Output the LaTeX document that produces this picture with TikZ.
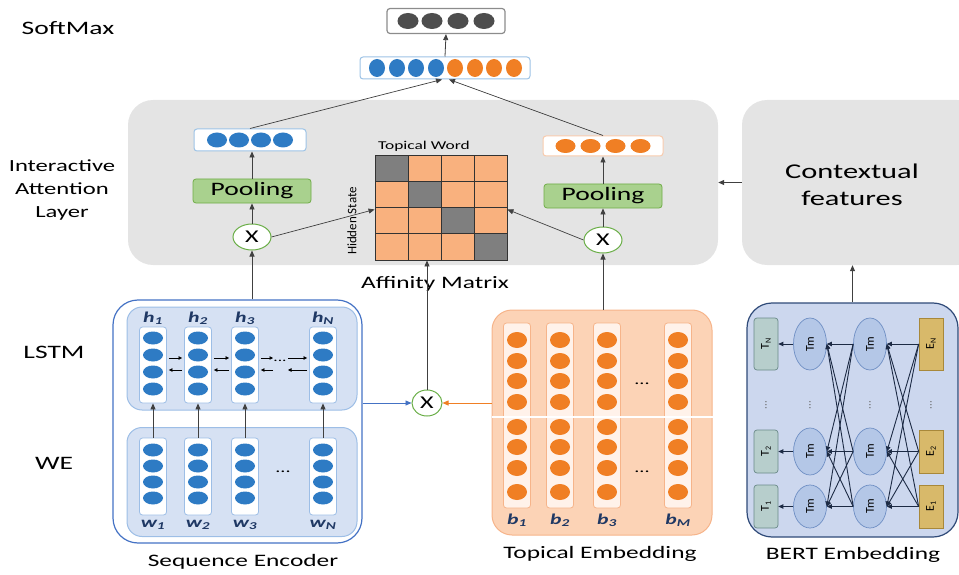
\documentclass[tikz,border=0pt]{standalone}
\usepackage{fontspec}
\setmainfont{Carlito}[FakeStretch=1.45]
\newfontfamily\rotfont{Carlito}
\usetikzlibrary{arrows.meta,shapes.geometric,calc}
\definecolor{attgray}{HTML}{E4E4E4}
\definecolor{myblue}{HTML}{2E7BC4}
\definecolor{myorange}{HTML}{F07F24}
\definecolor{darkdot}{HTML}{4D4D4D}
\definecolor{vecblue}{HTML}{9DC3E6}
\definecolor{vecorange}{HTML}{F8CBAD}
\definecolor{poolfill}{HTML}{A9D18E}
\definecolor{poolborder}{HTML}{70AD47}
\definecolor{xgreen}{HTML}{6AAE47}
\definecolor{cellpeach}{HTML}{F9B17E}
\definecolor{cellgray}{HTML}{7F7F7F}
\definecolor{seqblue}{HTML}{4472C4}
\definecolor{lstmfill}{HTML}{D6E1F3}
\definecolor{lstmborder}{HTML}{9DBEE6}
\definecolor{topfill}{HTML}{FCD3B6}
\definecolor{topborder}{HTML}{F6B48A}
\definecolor{topcolfill}{HTML}{FFF2EA}
\definecolor{bertfill}{HTML}{CCD7EE}
\definecolor{bertborder}{HTML}{2F4A78}
\definecolor{tmfill}{HTML}{B4C7E7}
\definecolor{tmborder}{HTML}{6F8FC4}
\definecolor{tfill}{HTML}{B7CECC}
\definecolor{tborder}{HTML}{6A8A88}
\definecolor{efill}{HTML}{D8B96A}
\definecolor{eborder}{HTML}{A8883A}
\definecolor{navy}{HTML}{1C2A44}
\definecolor{labnavy}{HTML}{1F3864}
\begin{document}
\begin{tikzpicture}[x=1pt,y=-1pt,
  arr/.style={draw=black!75, line width=0.8pt, -{Triangle[length=6pt,width=5pt]}},
  smallarr/.style={draw=black, line width=0.6pt, -{Triangle[length=3.5pt,width=3.5pt]}},
  bertarr/.style={draw=navy, line width=0.9pt, -{Triangle[length=5pt,width=4.5pt]}},
  dotshape/.style={ellipse, inner sep=0pt, draw=none},
  bdot/.style={dotshape, fill=myblue, minimum width=20pt, minimum height=14pt},
  odot/.style={dotshape, fill=myorange, minimum width=20pt, minimum height=15pt},
  ddot/.style={dotshape, fill=darkdot, minimum width=21pt, minimum height=16pt},
  vecbox/.style={rectangle, rounded corners=3pt, fill=white, inner sep=0pt, line width=1pt},
  xop/.style={ellipse, draw=xgreen, line width=1pt, fill=white, minimum width=38pt, minimum height=26pt, inner sep=0pt, font=\fontsize{18}{18}\selectfont},
  pool/.style={rectangle, rounded corners=3pt, draw=poolborder, line width=0.8pt, fill=poolfill, minimum width=118pt, minimum height=24pt, font=\fontsize{19}{19}\selectfont},
  colbox/.style={rectangle, rounded corners=3pt, fill=white, draw=lstmborder, line width=0.8pt, minimum width=27pt, inner sep=0pt},
  tcolbox/.style={rectangle, rounded corners=3pt, fill=topcolfill, draw=topborder, line width=0.8pt, minimum width=27pt, inner sep=0pt},
  cell/.style={rectangle, draw=black!80, line width=0.7pt, minimum width=33pt, minimum height=26.25pt, inner sep=0pt},
  lab/.style={font=\fontsize{19}{22}\selectfont, align=center},
  capt/.style={font=\fontsize{17.5}{20}\selectfont},
  idx/.style={font=\fontsize{15}{15}\selectfont\bfseries\itshape, text=labnavy},
  tm/.style={ellipse, draw=tmborder, fill=tmfill, line width=0.7pt, minimum width=33pt, inner sep=0pt, font=\rotfont\fontsize{12}{12}\selectfont},
  tbox/.style={rectangle, rounded corners=3pt, draw=tborder, fill=tfill, line width=0.7pt, minimum width=24pt, inner sep=0pt, font=\rotfont\fontsize{12}{12}\selectfont},
  ebox/.style={rectangle, draw=eborder, fill=efill, line width=0.7pt, minimum width=24pt, inner sep=0pt, font=\rotfont\fontsize{12}{12}\selectfont}
]
\useasboundingbox (0,0) rectangle (959,575);

% ---------- left labels ----------
\node[lab] (lsoft) at (68,28) {SoftMax};
\node[lab, font=\fontsize{17}{23}\selectfont] (latt) at (62,190) {Interactive\\Attention\\Layer};
\node[lab] (llstm) at (54,352) {LSTM};
\node[lab] (lwe) at (54,463) {WE};

% ---------- background boxes ----------
\node[fill=attgray, rounded corners=25pt, minimum width=590pt, minimum height=165pt, inner sep=0pt] (att) at (423,182.5) {};
\node[fill=attgray, rounded corners=25pt, minimum width=240pt, minimum height=165pt, inner sep=0pt] (ctx) at (862,182.5) {};
\node[font=\fontsize{21}{27}\selectfont, align=center] (ctxt) at (852,185) {Contextual\\features};

% ---------- softmax ----------
\node[vecbox, draw=black!45, line width=1.2pt, minimum width=118pt, minimum height=25pt] (smax) at (446,21) {};
\foreach \x [count=\i] in {408,432,458,484} \node[ddot] (sd\i) at (\x,21) {};
\node[vecbox, draw=vecblue, minimum width=170pt, minimum height=22pt] (mid) at (445,68) {};
\foreach \x [count=\i] in {377,397,416,436} \node[bdot, minimum width=16pt, minimum height=18pt] (mb\i) at (\x,68) {};
\foreach \x [count=\i] in {455,475,494,514} \node[odot, minimum width=16pt, minimum height=18pt] (mo\i) at (\x,68) {};
\draw[arr] (mid.north) -- (smax.south);

% ---------- left attention branch ----------
\node[vecbox, draw=vecblue, minimum width=112pt, minimum height=22pt] (lvec) at (250,140) {};
\foreach \x [count=\i] in {217,239,261,283} \node[bdot, minimum height=15pt] (lv\i) at (\x,140) {};
\node[pool] (lpool) at (252,191) {Pooling};
\node[xop] (lx) at (252,237) {X};
\draw[arr] (lx.north) -- (lpool.south);
\draw[arr] (lpool.north) -- (lpool.north |- lvec.south);

% ---------- right attention branch ----------
\node[vecbox, draw=vecorange, minimum width=120pt, minimum height=20pt] (rvec) at (603,146) {};
\foreach \x [count=\i] in {565.5,590.5,615.5,640.5} \node[odot, minimum height=14pt] (rv\i) at (\x,146) {};
\node[pool] (rpool) at (603,196) {Pooling};
\node[xop] (rx) at (603,240) {X};
\draw[arr] (rx.north) -- (rpool.south);
\draw[arr] (rpool.north) -- (rvec.south);

% lines to concatenated vector
\draw[arr, line width=0.7pt] (lvec.north) -- ($(mid.south)+(-3,0)$);
\draw[arr, line width=0.7pt] (rvec.north) -- ($(mid.south)+(4,0)$);

% ---------- affinity matrix ----------
\foreach \r in {0,...,3}{
  \foreach \c in {0,...,3}{
    \ifnum\r=\c \def\cf{cellgray}\else\def\cf{cellpeach}\fi
    \node[cell, fill=\cf] (m\r\c) at ({391.5+33*\c},{168.125+26.25*\r}) {};
  }
}
\node[draw=black!80, line width=0.9pt, minimum width=132pt, minimum height=105pt, inner sep=0pt] (mat) at (441,207.5) {};
\node[font=\fontsize{12}{12}\selectfont] (tw) at (424,146) {Topical Word};
\node[font=\rotfont\fontsize{13}{13}\selectfont, rotate=90] (hs) at (352,221) {Hidden State};
\node[font=\fontsize{17.5}{18}\selectfont] (am) at (435,284) {Affinity Matrix};
\draw[arr, line width=0.7pt] (lx.east) -- ($(mat.west)+(0,2)$);
\draw[arr, line width=0.7pt] (rx.west) -- ($(mat.east)+(0,2)$);
\draw[arr] (ctx.west) -- (att.east);

% ---------- sequence encoder ----------
\node[draw=seqblue, line width=1.2pt, rounded corners=25pt, minimum width=249pt, minimum height=243pt, inner sep=0pt] (seq) at (237.5,421.5) {};
\node[draw=lstmborder, fill=lstmfill, line width=1pt, rounded corners=15pt, minimum width=230pt, minimum height=103pt, inner sep=0pt] (lstmbox) at (242,358.5) {};
\node[draw=lstmborder, fill=lstmfill, line width=1pt, rounded corners=15pt, minimum width=230pt, minimum height=109pt, inner sep=0pt] (webox) at (242,482) {};
\foreach \x/\s [count=\i] in {153/1,198/2,245/3,323/N}{
  \node[colbox, minimum height=76pt] (h\i) at (\x,365) {};
  \foreach \y [count=\j] in {338,355,372,389} \node[bdot, minimum height=13pt] (h\i-\j) at (\x,\y) {};
  \node[idx] (hl\i) at (\x,318) {h\textsubscript{\s}};
  \node[colbox, minimum height=77pt] (w\i) at (\x,476.5) {};
  \foreach \y [count=\j] in {450,466,482,498} \node[bdot, minimum height=13pt] (w\i-\j) at (\x,\y) {};
  \node[idx] (wl\i) at (\x,525) {w\textsubscript{\s}};
  \draw[arr] (w\i.north) -- (h\i.south);
}
\node[font=\fontsize{14}{14}\selectfont] (wdots) at (283,472) {...};
% bidirectional arrows
\draw[smallarr] ($(h1.east)+(2,-7)$) -- ($(h2.west)+(-2,-7)$);
\draw[smallarr] ($(h2.west)+(-2,5)$) -- ($(h1.east)+(2,5)$);
\draw[smallarr] ($(h2.east)+(2,-7)$) -- ($(h3.west)+(-2,-7)$);
\draw[smallarr] ($(h3.west)+(-2,5)$) -- ($(h2.east)+(2,5)$);
\coordinate (lm1) at (273,358);
\coordinate (lm2) at (288,358);
\coordinate (lm3) at (273,370);
\coordinate (lm4) at (288,370);
\draw[smallarr] ($(h3.east)+(2,-7)$) -- (lm1);
\draw[smallarr] (lm2) -- ($(h4.west)+(-2,-7)$);
\draw[smallarr] ($(h4.west)+(-2,5)$) -- (lm4);
\draw[smallarr] (lm3) -- ($(h3.east)+(2,5)$);
\node[font=\fontsize{12}{12}\selectfont] (hdots) at (280,361) {...};
\node[capt] (seqcap) at (243,562) {Sequence Encoder};

\draw[arr] (lx.south |- seq.north) -- (lx.south);

% ---------- lower X ----------
\node[xop, minimum width=30pt, minimum height=26pt] (bx) at (427,403) {X};
\draw[arr] (bx.north) -- (bx.north |- mat.south);
\draw[line width=0.8pt, draw=seqblue, -{Triangle[length=6pt,width=5pt]}] (seq.east |- bx.west) -- (bx.west);

% ---------- topical embedding ----------
\node[draw=topborder, fill=topfill, line width=1pt, rounded corners=20pt, minimum width=220pt, minimum height=225pt, inner sep=0pt] (top) at (602,422.5) {};
\foreach \x/\s [count=\i] in {517/1,560/2,607/3,678/M}{
  \node[tcolbox, minimum height=185pt] (b\i) at (\x,415.5) {};
  \foreach \y [count=\j] in {340,361,381,402,427,447,468,492} \node[odot, minimum height=16pt] (b\i-\j) at (\x,\y) {};
  \node[idx] (bl\i) at (\x,520) {b\textsubscript{\s}};
}
\draw[white, line width=1.5pt] ($(top.west)+(0,-5.5)$) -- ($(top.east)+(0,-5.5)$);
\node[font=\fontsize{14}{14}\selectfont] (bdots1) at (642,384) {...};
\node[font=\fontsize{14}{14}\selectfont] (bdots2) at (642,472) {...};
\node[capt] (topcap) at (600,554) {Topical Embedding};
\draw[arr] (rx.south |- top.north) -- (rx.south);
\draw[line width=0.8pt, draw=myorange, -{Triangle[length=6pt,width=5pt]}] (top.west |- bx.east) -- (bx.east);

% ---------- BERT ----------
\node[draw=bertborder, fill=bertfill, line width=1.2pt, rounded corners=25pt, minimum width=211pt, minimum height=234pt, inner sep=0pt] (bert) at (852.5,420) {};
\node[tbox, minimum height=52pt] (TN) at (766,344) {\rotatebox{90}{T\textsubscript{N}}};
\node[tbox, minimum height=43pt] (T2) at (766,451.5) {\rotatebox{90}{T\textsubscript{2}}};
\node[tbox, minimum height=43pt] (T1) at (766,506.5) {\rotatebox{90}{T\textsubscript{1}}};
\node[ebox, minimum height=52pt] (EN) at (931,344) {\rotatebox{90}{E\textsubscript{N}}};
\node[ebox, minimum height=43pt] (E2) at (931,451.5) {\rotatebox{90}{E\textsubscript{2}}};
\node[ebox, minimum height=43pt] (E1) at (931,506.5) {\rotatebox{90}{E\textsubscript{1}}};
\node[tm, minimum height=52pt] (aN) at (810,344) {\rotatebox{90}{Tm}};
\node[tm, minimum height=47pt] (a2) at (810,451.5) {\rotatebox{90}{Tm}};
\node[tm, minimum height=43pt] (a1) at (810,506.5) {\rotatebox{90}{Tm}};
\node[tm, minimum height=52pt] (cN) at (870,344) {\rotatebox{90}{Tm}};
\node[tm, minimum height=47pt] (c2) at (870,451.5) {\rotatebox{90}{Tm}};
\node[tm, minimum height=43pt] (c1) at (870,506.5) {\rotatebox{90}{Tm}};
\foreach \p in {N,2,1}{
  \draw[bertarr] (a\p.west) -- (T\p.east);
  \foreach \q in {N,2,1}{
    \draw[bertarr] (c\p.west) -- (a\q.east);
    \draw[bertarr] (E\p.west) -- (c\q.east);
  }
}
\foreach \x [count=\i] in {766,810,870,931} \node[rotate=90, font=\rotfont\fontsize{11}{11}\selectfont, text=black!60] (vd\i) at (\x,405) {...};
\node[capt] (bertcap) at (853,555) {BERT Embedding};
\draw[arr] (bert.north) -- (bert.north |- ctx.south);
\end{tikzpicture}
\end{document}
